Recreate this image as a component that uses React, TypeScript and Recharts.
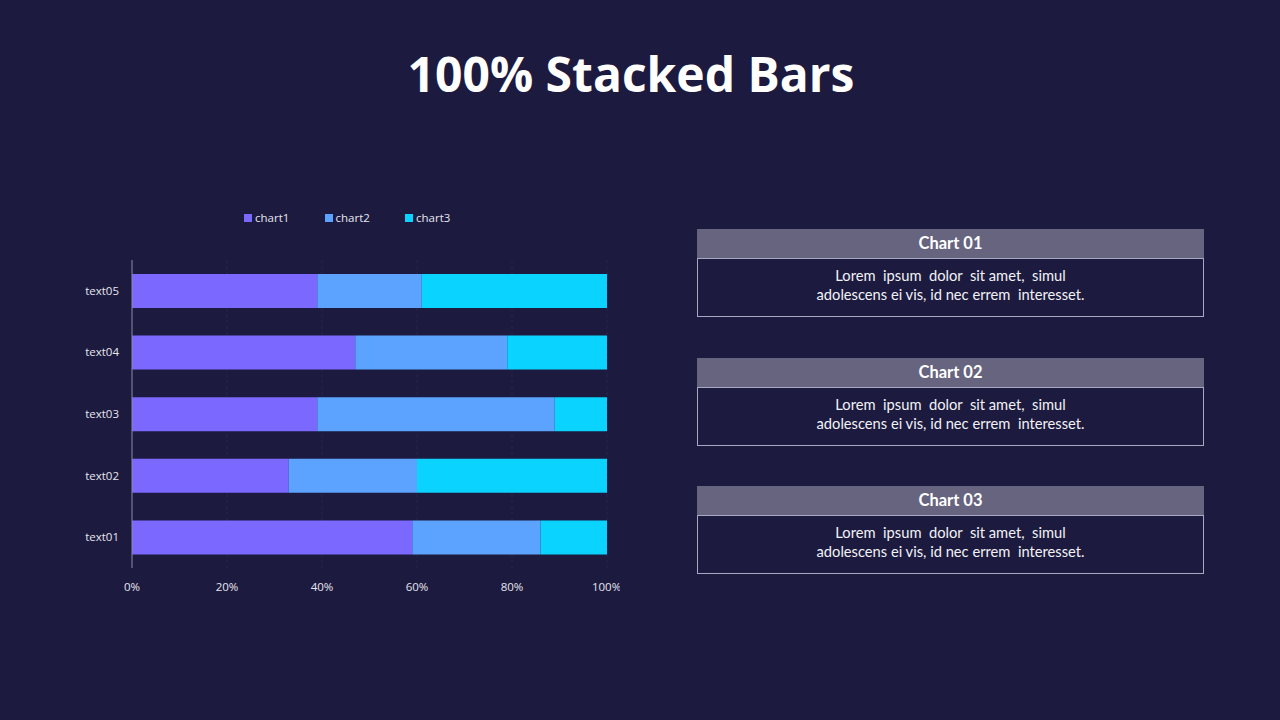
import React from 'react'
import { BarChart, Bar, XAxis, YAxis, CartesianGrid, Legend } from 'recharts'

const categories = ['text01', 'text02', 'text03', 'text04', 'text05']
const chart1 = [59, 33, 39, 47, 39]
const chart2 = [27, 27, 50, 32, 22]
const chart3 = [14, 40, 11, 21, 39]
const xTicks = [0, 0.2, 0.4, 0.6, 0.8, 1]

const seriesNames = ['chart1', 'chart2', 'chart3']
const seriesColors = ['#7B68FF', '#5BA3FF', '#0AD3FF']

const cards = [
  { title: 'Chart 01', lines: ['Lorem  ipsum  dolor  sit amet,  simul', 'adolescens ei vis, id nec errem  interesset.'] },
  { title: 'Chart 02', lines: ['Lorem  ipsum  dolor  sit amet,  simul', 'adolescens ei vis, id nec errem  interesset.'] },
  { title: 'Chart 03', lines: ['Lorem  ipsum  dolor  sit amet,  simul', 'adolescens ei vis, id nec errem  interesset.'] },
]

const data = categories.map((name, i) => ({
  name,
  chart1: chart1[i],
  chart2: chart2[i],
  chart3: chart3[i],
}))

const BG = '#1C1A3E'

const LegendContent = () => (
  <div style={{ height: 55, position: 'relative' }}>
    {seriesNames.map((s, i) => (
      <div
        key={s}
        style={{
          position: 'absolute',
          left: 244 + i * 80.5,
          top: 5,
          display: 'flex',
          alignItems: 'center',
          fontSize: 11.5,
          color: '#e6e6ee',
          fontFamily: 'Open Sans, sans-serif',
        }}
      >
        <span style={{ width: 8, height: 8, background: seriesColors[i], display: 'inline-block', marginRight: 3 }} />
        {s}
      </div>
    ))}
  </div>
)

export default function App() {
  return (
    <div style={{ position: 'absolute', left: 0, top: 0, width: 1280, height: 720, background: BG, overflow: 'hidden' }}>
      <div
        style={{
          position: 'absolute',
          top: 41,
          left: -9,
          width: 1280,
          textAlign: 'center',
          color: '#ffffff',
          fontFamily: 'Open Sans, sans-serif',
          fontWeight: 700,
          fontSize: 48,
        }}
      >
        100% Stacked Bars
      </div>

      <div style={{ position: 'absolute', left: 0, top: 205 }}>
        <BarChart
          width={620}
          height={398}
          data={data}
          layout="vertical"
          stackOffset="expand"
          barSize={34}
          margin={{ top: 0, right: 13, left: 0, bottom: 5 }}
        >
          <CartesianGrid horizontal={false} vertical stroke="#27254d" strokeDasharray="3 3" />
          <XAxis
            type="number"
            domain={[0, 1]}
            ticks={xTicks}
            tickFormatter={(v: number) => `${Math.round(v * 100)}%`}
            axisLine={false}
            tickLine={false}
            tickMargin={9}
            tick={{ fill: '#e6e6ee', fontSize: 11.5, fontFamily: 'Open Sans, sans-serif' }}
          />
          <YAxis
            type="category"
            dataKey="name"
            reversed
            width={132}
            axisLine={{ stroke: '#8a89a3' }}
            tickLine={false}
            tickMargin={7}
            tick={{ fill: '#e6e6ee', fontSize: 11.5, fontFamily: 'Open Sans, sans-serif' }}
          />
          <Legend verticalAlign="top" align="left" content={<LegendContent />} />
          {seriesNames.map((s, i) => (
            <Bar key={s} dataKey={s} stackId="a" fill={seriesColors[i]} isAnimationActive={false} />
          ))}
        </BarChart>
      </div>

      {cards.map((c, i) => (
        <div key={c.title} style={{ position: 'absolute', left: 697, top: 229 + i * 128.5, width: 507 }}>
          <div
            style={{
              height: 29,
              background: '#66647F',
              color: '#ffffff',
              fontFamily: 'Lato, sans-serif',
              fontWeight: 700,
              fontSize: 16.5,
              textAlign: 'center',
              lineHeight: '29px',
            }}
          >
            {c.title}
          </div>
          <div
            style={{
              height: 59,
              border: '1px solid #a9a8c2',
              color: '#f2f2f6',
              fontFamily: 'Lato, sans-serif',
              fontSize: 14.7,
              textAlign: 'center',
              lineHeight: '19px',
              paddingTop: 7,
              boxSizing: 'border-box',
              whiteSpace: 'pre',
            }}
          >
            {c.lines.map((l) => (
              <div key={l}>{l}</div>
            ))}
          </div>
        </div>
      ))}
    </div>
  )
}
